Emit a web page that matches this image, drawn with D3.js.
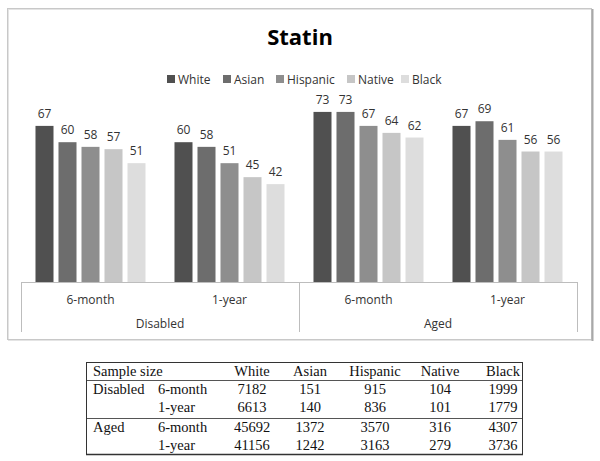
<!DOCTYPE html>
<html>
<head>
<meta charset="utf-8">
<script src="https://cdn.jsdelivr.net/npm/d3@7"></script>
<style>
  html, body { margin: 0; padding: 0; background: #fff; }
  svg { display: block; }
</style>
</head>
<body>
<svg id="chart" width="600" height="461"></svg>
<script>
// ---- data ----
const series = ["White", "Asian", "Hispanic", "Native", "Black"];
const groups = ["Disabled", "Aged"];
const periods = ["6-month", "1-year"];
const disabled6m = [67, 60, 58, 57, 51];
const disabled1y = [60, 58, 51, 45, 42];
const aged6m = [73, 73, 67, 64, 62];
const aged1y = [67, 69, 61, 56, 56];
const colors = ["#505050", "#6d6d6d", "#8e8e8e", "#c6c6c6", "#dddddd"];

const tableHeader = ["Sample size", "White", "Asian", "Hispanic", "Native", "Black"];
const nDisabled6m = [7182, 151, 915, 104, 1999];
const nDisabled1y = [6613, 140, 836, 101, 1779];
const nAged6m = [45692, 1372, 3570, 316, 4307];
const nAged1y = [41156, 1242, 3163, 279, 3736];

const cells = [
  { group: "Disabled", period: "6-month", values: disabled6m },
  { group: "Disabled", period: "1-year", values: disabled1y },
  { group: "Aged", period: "6-month", values: aged6m },
  { group: "Aged", period: "1-year", values: aged1y }
];
const tableRows = [
  { group: "Disabled", period: "6-month", values: nDisabled6m },
  { group: "Disabled", period: "1-year", values: nDisabled1y },
  { group: "Aged", period: "6-month", values: nAged6m },
  { group: "Aged", period: "1-year", values: nAged1y }
];

const svg = d3.select("#chart");
const sansFont = "'Open Sans', 'Noto Sans', sans-serif";

// outer chart frame
svg.append("rect").attr("x", 8.5).attr("y", 9.5).attr("width", 584).attr("height", 331)
  .attr("fill", "none").attr("stroke", "#e4e4e4").attr("stroke-width", 1);
svg.append("rect").attr("x", 7.5).attr("y", 8.5).attr("width", 584).attr("height", 331)
  .attr("fill", "none").attr("stroke", "#c8c8c8").attr("stroke-width", 1);
svg.append("line").attr("x1", 592.5).attr("x2", 592.5).attr("y1", 9).attr("y2", 341)
  .attr("stroke", "#a8a8a8").attr("stroke-width", 2);

// title
svg.append("text").attr("x", 300).attr("y", 45).attr("text-anchor", "middle")
  .style("font-family", sansFont).style("font-weight", "bold").style("font-size", "22px")
  .attr("fill", "#000").text("Statin");

// legend
const legendX = [167, 223, 276, 347, 401];
const legend = svg.append("g");
series.forEach((s, i) => {
  legend.append("rect").attr("x", legendX[i]).attr("y", 75).attr("width", 8).attr("height", 8)
    .attr("fill", colors[i]);
  legend.append("text").attr("x", legendX[i] + 11).attr("y", 83.5)
    .style("font-family", sansFont).style("font-size", "12px").attr("fill", "#333")
    .text(s);
});

// scales
const plotLeft = 21, plotRight = 577, baseY = 282;
const x0 = d3.scaleBand().domain(cells.map(c => c.group + "|" + c.period))
  .range([plotLeft, plotRight]).padding(0);
const x1 = d3.scaleBand().domain(series).range([0, x0.bandwidth()])
  .paddingInner(0.217).paddingOuter(0.63);
const y = d3.scaleLinear().domain([0, 80]).range([baseY, baseY - 186.4]);

// bars
const gBars = svg.append("g");
cells.forEach(c => {
  const g = gBars.append("g").attr("transform", `translate(${x0(c.group + "|" + c.period)},0)`);
  g.selectAll("rect").data(c.values).join("rect")
    .attr("x", (d, i) => x1(series[i]))
    .attr("y", d => y(d))
    .attr("width", x1.bandwidth())
    .attr("height", d => y(0) - y(d))
    .attr("fill", (d, i) => colors[i]);
  g.selectAll("text").data(c.values).join("text")
    .attr("x", (d, i) => x1(series[i]) + x1.bandwidth() / 2)
    .attr("y", d => y(d) - 8)
    .attr("text-anchor", "middle")
    .style("font-family", sansFont).style("font-size", "12px").attr("fill", "#333")
    .text(d => d);
});

// multi-level category axis
const axisColor = "#bdbdbd";
const ax = svg.append("g");
ax.append("line").attr("x1", plotLeft).attr("x2", plotRight).attr("y1", baseY + 0.5).attr("y2", baseY + 0.5)
  .attr("stroke", axisColor);
const groupEdges = [plotLeft, x0(groups[1] + "|" + periods[0]), plotRight];
groupEdges.forEach(xv => {
  ax.append("line").attr("x1", Math.round(xv) + 0.5).attr("x2", Math.round(xv) + 0.5)
    .attr("y1", baseY).attr("y2", 332).attr("stroke", axisColor);
});
cells.forEach(c => {
  ax.append("text").attr("x", x0(c.group + "|" + c.period) + x0.bandwidth() / 2).attr("y", 304)
    .attr("text-anchor", "middle").style("font-family", sansFont).style("font-size", "12px")
    .attr("fill", "#333").text(c.period);
});
groups.forEach(gname => {
  const a = x0(gname + "|" + periods[0]);
  const b = x0(gname + "|" + periods[1]) + x0.bandwidth();
  ax.append("text").attr("x", (a + b) / 2).attr("y", 328)
    .attr("text-anchor", "middle").style("font-family", sansFont).style("font-size", "12px")
    .attr("fill", "#333").text(gname);
});

// sample size table
const serif = "'Liberation Serif', 'Times New Roman', serif";
const tLeft = 86, tRight = 523;
const colCenters = [252, 310, 375, 440, 503];
const rowBase = [394, 412, 432, 450];
const t = svg.append("g").style("font-family", serif).style("font-size", "14.5px").attr("fill", "#111");
t.append("line").attr("x1", tLeft).attr("x2", tRight).attr("y1", 362.5).attr("y2", 362.5).attr("stroke", "#333");
t.append("line").attr("x1", tLeft).attr("x2", tRight).attr("y1", 380.5).attr("y2", 380.5).attr("stroke", "#555");
t.append("line").attr("x1", tLeft).attr("x2", tRight).attr("y1", 418.5).attr("y2", 418.5).attr("stroke", "#555");
t.append("line").attr("x1", tLeft).attr("x2", tRight).attr("y1", 454.5).attr("y2", 454.5).attr("stroke", "#333").attr("stroke-width", 1.5);
t.append("line").attr("x1", tLeft + 0.5).attr("x2", tLeft + 0.5).attr("y1", 362).attr("y2", 455).attr("stroke", "#333");
t.append("line").attr("x1", tRight - 0.5).attr("x2", tRight - 0.5).attr("y1", 362).attr("y2", 455).attr("stroke", "#333");

t.append("text").attr("x", 93).attr("y", 376).text(tableHeader[0]);
tableHeader.slice(1).forEach((h, i) => {
  t.append("text").attr("x", colCenters[i]).attr("y", 376).attr("text-anchor", "middle").text(h);
});
tableRows.forEach((r, ri) => {
  if (ri % 2 === 0) t.append("text").attr("x", 93).attr("y", rowBase[ri]).text(r.group);
  t.append("text").attr("x", 158).attr("y", rowBase[ri]).text(r.period);
  r.values.forEach((v, i) => {
    t.append("text").attr("x", colCenters[i]).attr("y", rowBase[ri]).attr("text-anchor", "middle").text(v);
  });
});
</script>
</body>
</html>
